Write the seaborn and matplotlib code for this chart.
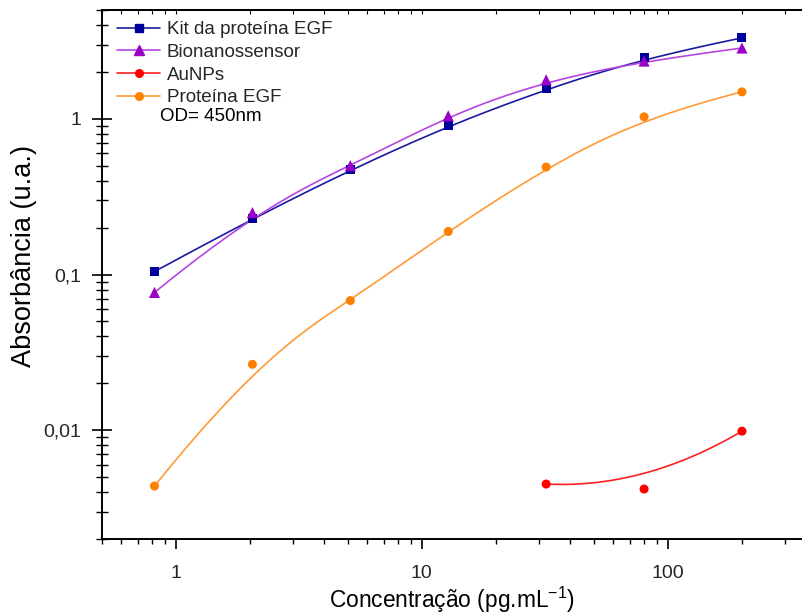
import numpy as np
import pandas as pd
import matplotlib
matplotlib.use("Agg")
import matplotlib.pyplot as plt
import seaborn as sns
from matplotlib.lines import Line2D
from matplotlib.ticker import LogLocator, FuncFormatter, NullFormatter

# Concentrations of the serial dilution (pg/mL)
conc = [0.8192, 2.048, 5.12, 12.8, 32.0, 80.0, 200.0]
conc_aunp = [32.0, 80.0, 200.0]

# Absorbance at 450 nm
kit_egf = [0.1045, 0.229, 0.471, 0.90, 1.56, 2.46, 3.31]
bionano = [0.0767, 0.25, 0.50, 1.045, 1.78, 2.35, 2.85]
aunps = [0.00451, 0.00419, 0.00986]
prot_egf = [0.00438, 0.0265, 0.068, 0.189, 0.49, 1.03, 1.49]

labels = ["Kit da proteína EGF", "Bionanossensor", "AuNPs", "Proteína EGF"]
marker_colors = ["#00009C", "#9A00C8", "#FF0000", "#FF8000"]
line_colors = ["#1A1AA0", "#B545E0", "#FF2020", "#FF9A35"]
markers = ["s", "^", "o", "o"]
msizes = [6.5, 8, 6.5, 6.5]


def bspline_curve(xs, ys, n=300):
    """Clamped B-spline over the data points, computed in log-log space."""
    P = np.column_stack([np.log10(xs), np.log10(ys)])
    m = len(P)
    k = min(3, m - 1)
    inner = np.linspace(0, 1, m - k + 1)
    knots = np.concatenate([np.zeros(k), inner, np.ones(k)])
    t = np.linspace(0, 1, n)
    t[-1] = 1 - 1e-12

    def basis(i, p, tt):
        if p == 0:
            return ((knots[i] <= tt) & (tt < knots[i + 1])).astype(float)
        out = np.zeros_like(tt)
        d1 = knots[i + p] - knots[i]
        d2 = knots[i + p + 1] - knots[i + 1]
        if d1 > 0:
            out += (tt - knots[i]) / d1 * basis(i, p - 1, tt)
        if d2 > 0:
            out += (knots[i + p + 1] - tt) / d2 * basis(i + 1, p - 1, tt)
        return out

    B = np.column_stack([basis(i, k, t) for i in range(m)])
    C = B @ P
    return 10 ** C[:, 0], 10 ** C[:, 1]


sns.set_theme(style="white")
plt.rcParams["font.family"] = ["Liberation Sans", "DejaVu Sans"]
plt.rcParams["mathtext.fontset"] = "custom"
plt.rcParams["mathtext.rm"] = "Liberation Sans"
plt.rcParams["mathtext.it"] = "Liberation Sans"

fig = plt.figure(figsize=(8.03, 6.14), dpi=100)
ax = fig.add_axes([0.1267, 0.1221, 0.8733, 0.8616])

series = [(conc, kit_egf), (conc, bionano), (conc_aunp, aunps), (conc, prot_egf)]
for (xs, ys), lab, mc, lc, mk, ms in zip(series, labels, marker_colors, line_colors, markers, msizes):
    cx, cy = bspline_curve(xs, ys)
    curve = pd.DataFrame({"x": cx, "y": cy})
    sns.lineplot(data=curve, x="x", y="y", ax=ax, color=lc, lw=1.2,
                 sort=False, estimator=None, legend=False)
    pts = pd.DataFrame({"x": xs, "y": ys})
    sns.scatterplot(data=pts, x="x", y="y", ax=ax, color=mc, marker=mk,
                    s=ms ** 2, edgecolor="none", legend=False, zorder=3)

ax.set_xscale("log")
ax.set_yscale("log")
ax.set_xlim(0.5, 354)
ax.set_ylim(0.002, 5)

ax.xaxis.set_major_locator(LogLocator(base=10, numticks=10))
ax.xaxis.set_minor_locator(LogLocator(base=10, subs=np.arange(2, 10), numticks=20))
ax.yaxis.set_major_locator(LogLocator(base=10, numticks=10))
ax.yaxis.set_minor_locator(LogLocator(base=10, subs=np.arange(2, 10), numticks=20))


def comma_fmt(v, pos):
    return f"{v:g}".replace(".", ",")


ax.xaxis.set_major_formatter(FuncFormatter(comma_fmt))
ax.yaxis.set_major_formatter(FuncFormatter(comma_fmt))
ax.xaxis.set_minor_formatter(NullFormatter())
ax.yaxis.set_minor_formatter(NullFormatter())

for side in ["left", "bottom", "top"]:
    ax.spines[side].set_color("black")
    ax.spines[side].set_linewidth(1.4)
ax.spines["right"].set_visible(False)

ax.tick_params(axis="x", which="major", direction="out", length=7, width=1.2,
               color="black", labelsize=14, pad=12, bottom=True, top=False)
ax.tick_params(axis="x", which="minor", direction="out", length=3.5, width=1.0,
               color="black", bottom=True, top=False)
ax.tick_params(axis="y", which="major", direction="inout", length=15, width=1.2,
               color="black", labelsize=14, pad=7, left=True, right=False)
ax.tick_params(axis="y", which="minor", direction="inout", length=8, width=1.0,
               color="black", left=True, right=False)

sec = ax.secondary_xaxis("top")
sec.set_xscale("log")
sec.xaxis.set_major_locator(LogLocator(base=10, numticks=10))
sec.xaxis.set_minor_locator(LogLocator(base=10, subs=np.arange(2, 10), numticks=20))
sec.tick_params(which="both", direction="in", length=3, width=0.8, labeltop=False, color="black")
sec.spines["top"].set_linewidth(1.4)

ax.set_xlabel("Concentração (pg.mL$^{-1}$)", fontsize=16.4, labelpad=2, color="black")
ax.set_ylabel("Absorbância (u.a.)", fontsize=19.5, color="black")
ax.yaxis.set_label_coords(-0.092, 0.535)

handles = [Line2D([0], [0], color=lc, lw=1.2, marker=mk, markersize=ms * 0.85,
                  markerfacecolor=mc, markeredgecolor=mc)
           for lc, mc, mk, ms in zip(line_colors, marker_colors, markers, msizes)]
ax.legend(handles, labels, loc="upper left", bbox_to_anchor=(0.01, 0.995),
          frameon=False, fontsize=13.5, handlelength=2.3, handletextpad=0.35,
          labelspacing=0.30, borderaxespad=0.05)
ax.text(0.083, 0.798, "OD= 450nm", transform=ax.transAxes, fontsize=13.5,
        ha="left", va="center", color="black")

fig.savefig("out.png", dpi=100)
